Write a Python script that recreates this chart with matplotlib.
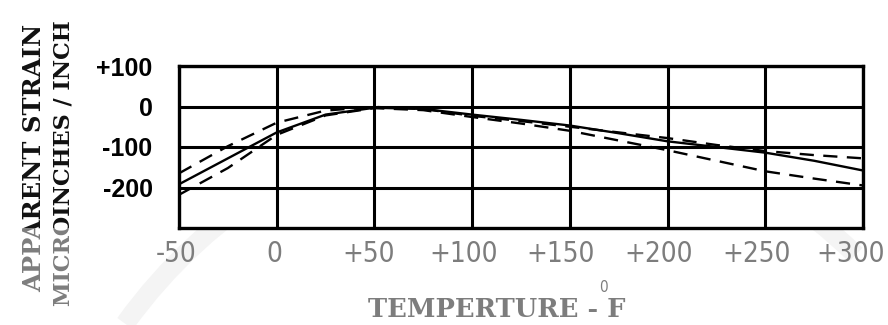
import matplotlib
matplotlib.use("Agg")
import matplotlib.pyplot as plt
from matplotlib.patches import Arc
from matplotlib.transforms import Bbox, TransformedBbox, ScaledTranslation

# temperature (deg F) and apparent strain (microinches / inch)
temp = [-50, -25, 0, 25, 50, 75, 100, 125, 150, 175, 200, 225, 250, 275, 300]
strain_solid = [-192, -128, -64, -20, -3, -6, -20, -33, -47, -66, -86, -100, -114, -134, -158]
strain_dash_hi = [-165, -98, -40, -10, -1, -6, -23, -36, -50, -64, -78, -95, -110, -120, -128]
strain_dash_lo = [-218, -152, -70, -22, -4, -9, -26, -42, -60, -84, -108, -134, -160, -178, -195]

xticks = [-50, 0, 50, 100, 150, 200, 250, 300]
xticklabels = ["-50", "0", "+50", "+100", "+150", "+200", "+250", "+300"]
yticks = [100, 0, -100, -200]
yticklabels = ["+100", "0", "-100", "-200"]

# on the scan the x labels sit a little left of their grid lines (pixels)
xlabel_nudge = [-3, -2, -6, -9, -9, -9, -9, -12]

GRAY = "#7d7d7d"
SERIF = ["DejaVu Serif", "Liberation Serif"]
NARROW = ["Liberation Sans Narrow", "DejaVu Sans"]

fig = plt.figure(figsize=(8.88, 3.25), dpi=100)

# faint watermark swoosh behind everything
bg = fig.add_axes([0, 0, 1, 1], zorder=-5)
bg.set_xlim(0, 888); bg.set_ylim(0, 325); bg.axis("off")
bg.add_patch(Arc((520, -330), 1000, 1080, theta1=50, theta2=140, lw=14, color="#f4f4f4"))

ax = fig.add_axes([179 / 888, 1 - 228 / 325, 684 / 888, 162 / 325])
ax.plot(temp, strain_solid, color="black", lw=1.7)
ax.plot(temp, strain_dash_hi, color="black", lw=1.7, dashes=(6, 4))
ax.plot(temp, strain_dash_lo, color="black", lw=1.7, dashes=(6, 4))

ax.set_xlim(-50, 300)
ax.set_ylim(-300, 100)
ax.set_xticks(xticks)
ax.set_xticklabels(xticklabels, fontsize=20, family=NARROW, stretch="condensed", color=GRAY)
ax.set_yticks(yticks)
ax.set_yticklabels(yticklabels, fontsize=18, family=["Liberation Sans", "DejaVu Sans"],
                   fontweight="bold", color="black")
ax.tick_params(length=0)
ax.tick_params(axis="y", pad=19)
ax.tick_params(axis="x", pad=9)
for lab, dx in zip(ax.get_xticklabels(), xlabel_nudge):
    lab.set_transform(lab.get_transform() + ScaledTranslation(dx / 100, 0, fig.dpi_scale_trans))
ax.grid(True, color="black", lw=2.2)
ax.set_axisbelow(True)
for sp in ax.spines.values():
    sp.set_linewidth(2.4)

# y label: dark above the plot bottom, faded grey below it (as on the scan)
split = 1 - 228 / 325
upper = TransformedBbox(Bbox([[0, split], [1, 1]]), fig.transFigure)
lower = TransformedBbox(Bbox([[0, 0], [1, split]]), fig.transFigure)
for txt, xf, yf, fs in [("APPARENT STRAIN", 34 / 888, 1 - 158 / 325, 17.5),
                        ("MICROINCHES / INCH", 63 / 888, 1 - 163 / 325, 16)]:
    for col, box in [("#111111", upper), (GRAY, lower)]:
        t = fig.text(xf, yf, txt, rotation=90, ha="center", va="center",
                     fontsize=fs, family=SERIF, fontweight="bold", color=col)
        t.set_clip_on(True)
        t.set_clip_box(box)

fig.text(497 / 888, 3 / 325, "TEMPERTURE - F", ha="center", va="bottom",
         fontsize=18.5, family=SERIF, fontweight="bold", color=GRAY)
fig.text(603 / 888, 1 - 288 / 325, "0", ha="center", va="center",
         fontsize=11, family=NARROW, stretch="condensed", color=GRAY)

fig.savefig("out.png", dpi=100)
